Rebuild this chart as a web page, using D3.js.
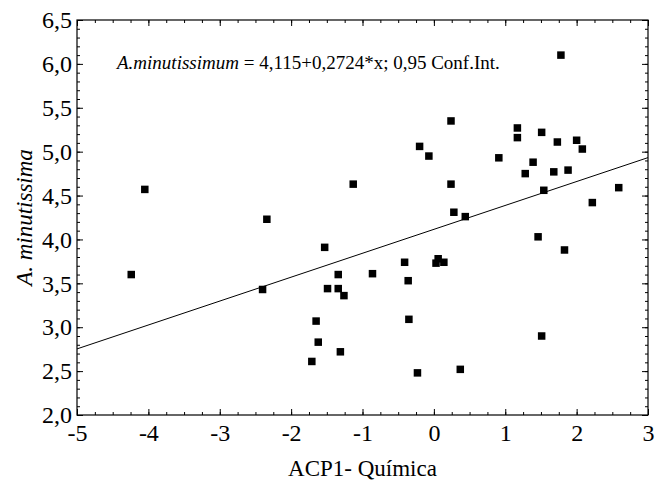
<!DOCTYPE html>
<html lang="en">
    <head>
        <meta charset="utf-8">
        <title>ACP1 vs A. minutissima</title>
        <script src="https://d3js.org/d3.v7.min.js"></script>
        <style type="text/css">
            body { margin: 0; background: #fff; }
            svg text { font-family: "Liberation Serif", "Times New Roman", serif !important; fill: #000; }
        </style>
    </head>
    <body>
        <svg id="scatter" width="655" height="485"></svg>
        <script>
            // Points: ACP1 score and A. minutissima value
            var acp1 = [-4.24, -4.05, -2.34, -2.40, 0.24, -0.20, -0.07, -1.13, 0.24, 0.28,
                        0.44, -1.53, -0.41, 0.06, 0.03, 0.14, -1.34, -0.86, -0.36, -1.49,
                        -1.34, -1.26, 1.78, 1.17, 1.17, 1.51, 1.73, 2.00, 2.08, 0.91,
                        1.39, 1.28, 1.68, 1.88, 1.54, 2.59, 2.22, 1.46, 1.83, 1.51,
                        -1.65, -0.35, -1.62, -1.31, -1.71, -0.23, 0.37];
            var minut = [3.60, 4.57, 4.23, 3.43, 5.35, 5.06, 4.95, 4.63, 4.63, 4.31,
                         4.26, 3.91, 3.74, 3.78, 3.73, 3.74, 3.60, 3.61, 3.53, 3.44,
                         3.44, 3.36, 6.10, 5.27, 5.16, 5.22, 5.11, 5.13, 5.03, 4.93,
                         4.88, 4.75, 4.77, 4.79, 4.56, 4.59, 4.42, 4.03, 3.88, 2.90,
                         3.07, 3.09, 2.83, 2.72, 2.61, 2.48, 2.52];

            // Fitted line
            var intercept = 4.115;
            var slope = 0.2724;

            var xTicks = [-5, -4, -3, -2, -1, 0, 1, 2, 3];
            var yTicks = [2.0, 2.5, 3.0, 3.5, 4.0, 4.5, 5.0, 5.5, 6.0, 6.5];

            var svg = d3.select('#scatter');
            var pLeft = 77, pRight = 648, pTop = 20, pBottom = 415;

            var xScale = d3.scaleLinear().domain([-5, 3]).range([pLeft, pRight]);
            var yScale = d3.scaleLinear().domain([2, 6.5]).range([pBottom, pTop]);

            var comma = function(d) { return d3.format('.1f')(d).replace('.', ','); };
            var plain = function(d) { return String(d); };

            //Minor ticks, inside the frame on all four sides
            var xMinor = d3.range(-5, 3.001, 0.25);
            var yMinor = d3.range(2, 6.501, 0.1);

            svg.append('g')
                .attr('transform', 'translate(0,' + pBottom + ')')
                .call(d3.axisTop(xScale).tickValues(xMinor).tickSize(3).tickFormat(''));
            svg.append('g')
                .attr('transform', 'translate(0,' + pTop + ')')
                .call(d3.axisBottom(xScale).tickValues(xMinor).tickSize(3).tickFormat(''));
            svg.append('g')
                .attr('transform', 'translate(' + pLeft + ',0)')
                .call(d3.axisRight(yScale).tickValues(yMinor).tickSize(3).tickFormat(''));
            svg.append('g')
                .attr('transform', 'translate(' + pRight + ',0)')
                .call(d3.axisLeft(yScale).tickValues(yMinor).tickSize(3).tickFormat(''));

            //Major ticks with labels
            svg.append('g')
                .attr('transform', 'translate(0,' + pBottom + ')')
                .call(d3.axisTop(xScale).tickValues(xTicks).tickSizeInner(6).tickSizeOuter(0).tickFormat(''));
            var xLabels = svg.append('g')
                .attr('transform', 'translate(0,' + pBottom + ')')
                .call(d3.axisBottom(xScale).tickValues(xTicks).tickSize(0).tickPadding(9).tickFormat(plain));
            svg.append('g')
                .attr('transform', 'translate(' + pLeft + ',0)')
                .call(d3.axisRight(yScale).tickValues(yTicks).tickSizeInner(6).tickSizeOuter(0).tickFormat(''));
            var yLabels = svg.append('g')
                .attr('transform', 'translate(' + pLeft + ',0)')
                .call(d3.axisLeft(yScale).tickValues(yTicks).tickSize(0).tickPadding(5).tickFormat(comma));
            svg.append('g')
                .attr('transform', 'translate(0,' + pTop + ')')
                .call(d3.axisBottom(xScale).tickValues(xTicks).tickSizeInner(6).tickSizeOuter(0).tickFormat(''));
            svg.append('g')
                .attr('transform', 'translate(' + pRight + ',0)')
                .call(d3.axisLeft(yScale).tickValues(yTicks).tickSizeInner(6).tickSizeOuter(0).tickFormat(''));

            svg.selectAll('.domain').remove();
            svg.selectAll('.tick line').attr('stroke', '#000');
            xLabels.attr('font-size', null);
            yLabels.attr('font-size', null);
            xLabels.selectAll('text').style('font-size', '24px');
            yLabels.selectAll('text').style('font-size', '24px');

            //Frame
            svg.append('rect')
                .attr('x', pLeft).attr('y', pTop)
                .attr('width', pRight - pLeft).attr('height', pBottom - pTop)
                .attr('fill', 'none').attr('stroke', '#000').attr('stroke-width', 1.2);

            //Regression line
            svg.append('line')
                .attr('x1', xScale(-5)).attr('y1', yScale(intercept + slope * -5))
                .attr('x2', xScale(3)).attr('y2', yScale(intercept + slope * 3))
                .attr('stroke', '#000').attr('stroke-width', 1);

            //Squares
            svg.selectAll('rect.pt')
                .data(acp1)
                .enter()
                .append('rect')
                .attr('class', 'pt')
                .attr('x', function(d) { return xScale(d) - 3.75; })
                .attr('y', function(d, i) { return yScale(minut[i]) - 3.75; })
                .attr('width', 7.5).attr('height', 7.5)
                .attr('fill', '#000');

            //Equation
            var eq = svg.append('text')
                .attr('x', 117).attr('y', 69)
                .style('font-size', '19px');
            eq.append('tspan').attr('font-style', 'italic').text('A.minutissimum');
            eq.append('tspan').text(' = 4,115+0,2724*x; 0,95 Conf.Int.');

            //Axis titles
            svg.append('text')
                .attr('x', (pLeft + pRight) / 2).attr('y', 476)
                .attr('text-anchor', 'middle').style('font-size', '23px')
                .text('ACP1- Química');
            svg.append('text')
                .attr('transform', 'translate(32,' + ((pTop + pBottom) / 2) + ') rotate(-90)')
                .attr('text-anchor', 'middle').style('font-size', '23px')
                .attr('font-style', 'italic')
                .text('A. minutissima');
        </script>
    </body>
</html>
